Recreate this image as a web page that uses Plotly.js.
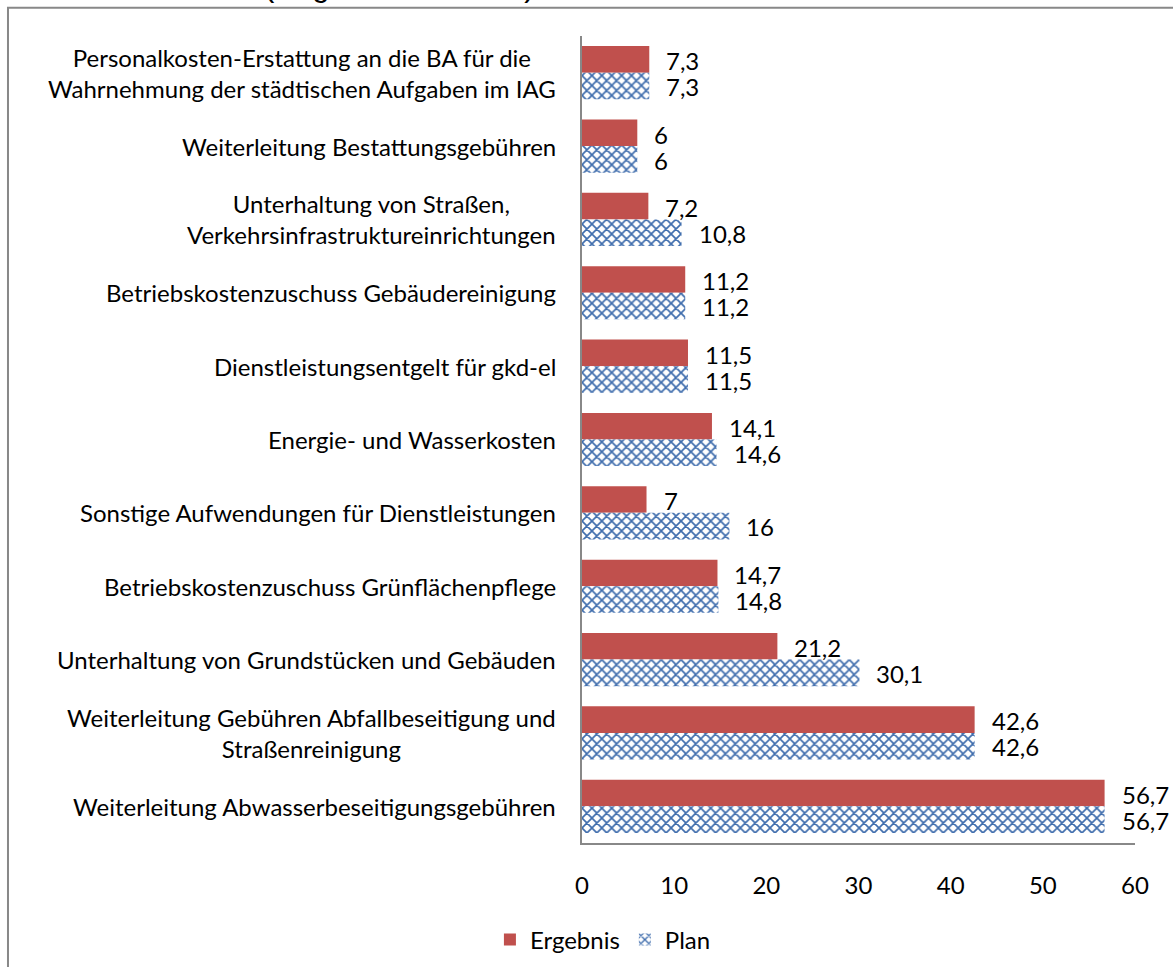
<!DOCTYPE html>
<html>
<head>
<meta charset="utf-8">
<script src="https://cdn.plot.ly/plotly-3.0.1.min.js"></script>
<style>
  html, body { margin: 0; padding: 0; background: #fff; }
  #chart { width: 1173px; height: 967px; }
</style>
</head>
<body>
<div id="chart"></div>
<script>
// Categories, top to bottom
let categories = [
    "Personalkosten-Erstattung an die BA für die<br>Wahrnehmung der städtischen Aufgaben im IAG",
    "Weiterleitung Bestattungsgebühren",
    "Unterhaltung von Straßen,<br>Verkehrsinfrastruktureinrichtungen",
    "Betriebskostenzuschuss Gebäudereinigung",
    "Dienstleistungsentgelt für gkd-el",
    "Energie- und Wasserkosten",
    "Sonstige Aufwendungen für Dienstleistungen",
    "Betriebskostenzuschuss Grünflächenpflege",
    "Unterhaltung von Grundstücken und Gebäuden",
    "Weiterleitung Gebühren Abfallbeseitigung und<br>Straßenreinigung",
    "Weiterleitung Abwasserbeseitigungsgebühren"
]
let ergebnis = [7.3, 6, 7.2, 11.2, 11.5, 14.1, 7, 14.7, 21.2, 42.6, 56.7]
let plan     = [7.3, 6, 10.8, 11.2, 11.5, 14.6, 16, 14.8, 30.1, 42.6, 56.7]
let xTicks   = [0, 10, 20, 30, 40, 50, 60]

let font = 'Lato, "Open Sans", sans-serif'
let fsize = 24
let red = '#C0504D'
let blue = '#3F6DAD'

let traceErgebnis = {
    type: 'bar',
    orientation: 'h',
    name: 'Ergebnis',
    x: ergebnis,
    y: categories,
    marker: { color: red },
    hoverinfo: 'skip'
};

// checkered fill: crossed diagonals give a staggered blue/white pattern
let tracePlan = {
    type: 'bar',
    orientation: 'h',
    name: 'Plan',
    x: plan,
    y: categories,
    marker: {
        color: '#ffffff',
        pattern: { shape: 'x', fgcolor: blue, bgcolor: '#ffffff', fgopacity: 1, size: 7, solidity: 0.42, fillmode: 'replace' }
    },
    hoverinfo: 'skip'
};

function fmt(v) {
    return String(v).replace('.', ',')
}

let annotations = []

// category labels, lines centred like in the original
categories.forEach((c) => {
    annotations.push({
        xref: 'paper', x: 0, xanchor: 'right', xshift: -24,
        yref: 'y', y: c, yanchor: 'middle',
        text: c, align: 'center', showarrow: false,
        font: { family: font, size: fsize, color: '#000' }
    })
})

// value labels
categories.forEach((c, i) => {
    annotations.push({
        xref: 'x', x: ergebnis[i], xanchor: 'left', xshift: 15,
        yref: 'y', y: c, yanchor: 'middle', yshift: 12,
        text: fmt(ergebnis[i]), showarrow: false,
        font: { family: font, size: fsize, color: '#000' }
    })
    annotations.push({
        xref: 'x', x: plan[i], xanchor: 'left', xshift: 15,
        yref: 'y', y: c, yanchor: 'middle', yshift: -14,
        text: fmt(plan[i]), showarrow: false,
        font: { family: font, size: fsize, color: '#000' }
    })
})

// title, cut off at the top of the picture
annotations.push({
    xref: 'paper', x: -0.33, xanchor: 'center',
    yref: 'paper', y: 1.038, yanchor: 'bottom',
    text: '(Angaben in Mio. €)', showarrow: false,
    font: { family: '"Liberation Sans", Arial, sans-serif', size: 31, color: '#000' }
})

let layout = {
    width: 1173,
    height: 967,
    margin: { l: 582, r: 38, t: 36, b: 124 },
    paper_bgcolor: '#fff',
    plot_bgcolor: '#fff',
    barmode: 'group',
    bargap: 0.275,
    bargroupgap: 0,
    font: { family: font, size: fsize, color: '#000' },
    xaxis: {
        range: [0, 60],
        tickvals: xTicks,
        ticktext: xTicks.map(String),
        showgrid: false,
        zeroline: false,
        showline: true,
        linecolor: '#888',
        linewidth: 2,
        ticks: '',
        ticklabelstandoff: 20,
        tickfont: { family: font, size: fsize, color: '#000' },
        fixedrange: true
    },
    yaxis: {
        type: 'category',
        autorange: 'reversed',
        showticklabels: false,
        showgrid: false,
        zeroline: false,
        showline: true,
        linecolor: '#888',
        linewidth: 2,
        ticks: '',
        fixedrange: true
    },
    showlegend: true,
    legend: {
        orientation: 'h',
        xref: 'container', yref: 'container',
        x: 0.514, xanchor: 'center',
        y: 0.0279, yanchor: 'middle',
        font: { family: font, size: fsize, color: '#000' },
        traceorder: 'normal'
    },
    annotations: annotations,
    shapes: [{
        type: 'rect', xref: 'paper', yref: 'paper',
        x0: -1.038, x1: 1.2, y0: -0.3, y1: 1.035,
        line: { color: '#888', width: 2 },
        fillcolor: 'rgba(0,0,0,0)',
        layer: 'below'
    }]
};

Plotly.newPlot('chart', [traceErgebnis, tracePlan], layout, { displayModeBar: false, staticPlot: true });
</script>
</body>
</html>
